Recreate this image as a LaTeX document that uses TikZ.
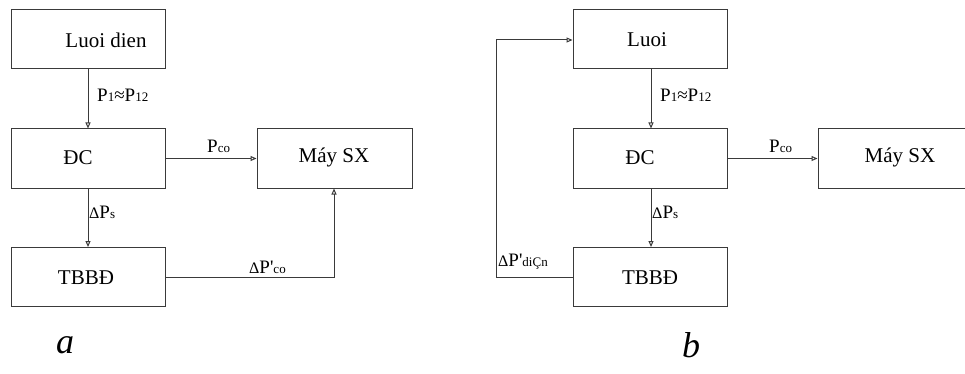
\documentclass[tikz,border=0pt]{standalone}
\usepackage{fontspec}
\setmainfont{Liberation Serif}
\newfontfamily\nomapfont{Liberation Serif}
\usetikzlibrary{arrows.meta}
\definecolor{linec}{HTML}{3A3A3A}
\tikzset{
  box/.style={draw=linec, line width=1pt, minimum width=154pt, minimum height=59pt, inner sep=0pt},
  boxtxt/.style={font=\fontsize{21}{21}\selectfont, inner sep=0pt},
  lbl/.style={font=\fontsize{19}{19}\selectfont, inner sep=0pt, anchor=base west},
  conn/.style={draw=linec, line width=1pt, -{Triangle[open,length=6pt,width=5pt,line width=1pt]}},
  figcap/.style={font=\fontsize{36}{36}\selectfont\itshape, inner sep=0pt}
}
\newcommand{\sbs}[1]{{\fontsize{13}{13}\selectfont #1}}
\newcommand{\dlt}{{\fontsize{16}{16}\selectfont Δ}}
\newcommand{\prm}{{\nomapfont\symbol{39}}}
\begin{document}
\begin{tikzpicture}[x=1pt,y=-1pt]
\useasboundingbox (0,0) rectangle (965,374);
% ---------- diagram a ----------
\node[box] (la) at (88,39.5) {};
\node[box] (dca) at (88,158.5) {};
\node[box] (ta) at (88,277) {};
\node[box, minimum width=155pt] (ma) at (334.5,158.5) {};
\node[boxtxt] (tla) at (106,40) {Luoi dien};
\node[boxtxt] (tdca) at (78,158) {ĐC};
\node[boxtxt] (tta) at (86,278) {TBBĐ};
\node[boxtxt] (tma) at (334,157) {Máy SX};
\draw[conn] (la.south -| 88,0) -- (dca.north -| 88,0);
\draw[conn] (dca.east) -- (ma.west);
\draw[conn] (dca.south -| 88,0) -- (ta.north -| 88,0);
\coordinate (ca) at (334,277);
\draw[conn] (ta.east) -- (ca) -- (ma.south -| ca);
\node[lbl] (p1a) at (97,102) {P\sbs{1}≈P\sbs{12}};
\node[lbl] (pcoa) at (207,153) {P\sbs{co}};
\node[lbl] (psa) at (89,218) {\dlt P\sbs{s}};
\node[lbl] (pca) at (249,273) {\dlt P\prm\sbs{co}};
\node[figcap] (capa) at (65,345) {a};
% ---------- diagram b ----------
\node[box] (lb) at (650,39.5) {};
\node[box] (dcb) at (650,158.5) {};
\node[box] (tb) at (650,277) {};
\node[box] (mb) at (895,158.5) {};
\node[boxtxt] (tlb) at (647,40) {Luoi};
\node[boxtxt] (tdcb) at (640,158) {ĐC};
\node[boxtxt] (ttb) at (650,278) {TBBĐ};
\node[boxtxt] (tmb) at (900,157) {Máy SX};
\draw[conn] (lb.south -| 651,0) -- (dcb.north -| 651,0);
\draw[conn] (dcb.east) -- (mb.west);
\draw[conn] (dcb.south -| 651,0) -- (tb.north -| 651,0);
\coordinate (cb1) at (496,277);
\coordinate (cb2) at (496,40);
\draw[conn] (tb.west) -- (cb1) -- (cb2) -- (lb.west |- cb2);
\node[lbl] (pcb) at (498,266) {\dlt P\prm\sbs{diÇn}};
\node[lbl] (p1b) at (660,102) {P\sbs{1}≈P\sbs{12}};
\node[lbl] (pcob) at (769,153) {P\sbs{co}};
\node[lbl] (psb) at (652,218) {\dlt P\sbs{s}};
\node[figcap] (capb) at (691,345) {b};
\end{tikzpicture}
\end{document}
